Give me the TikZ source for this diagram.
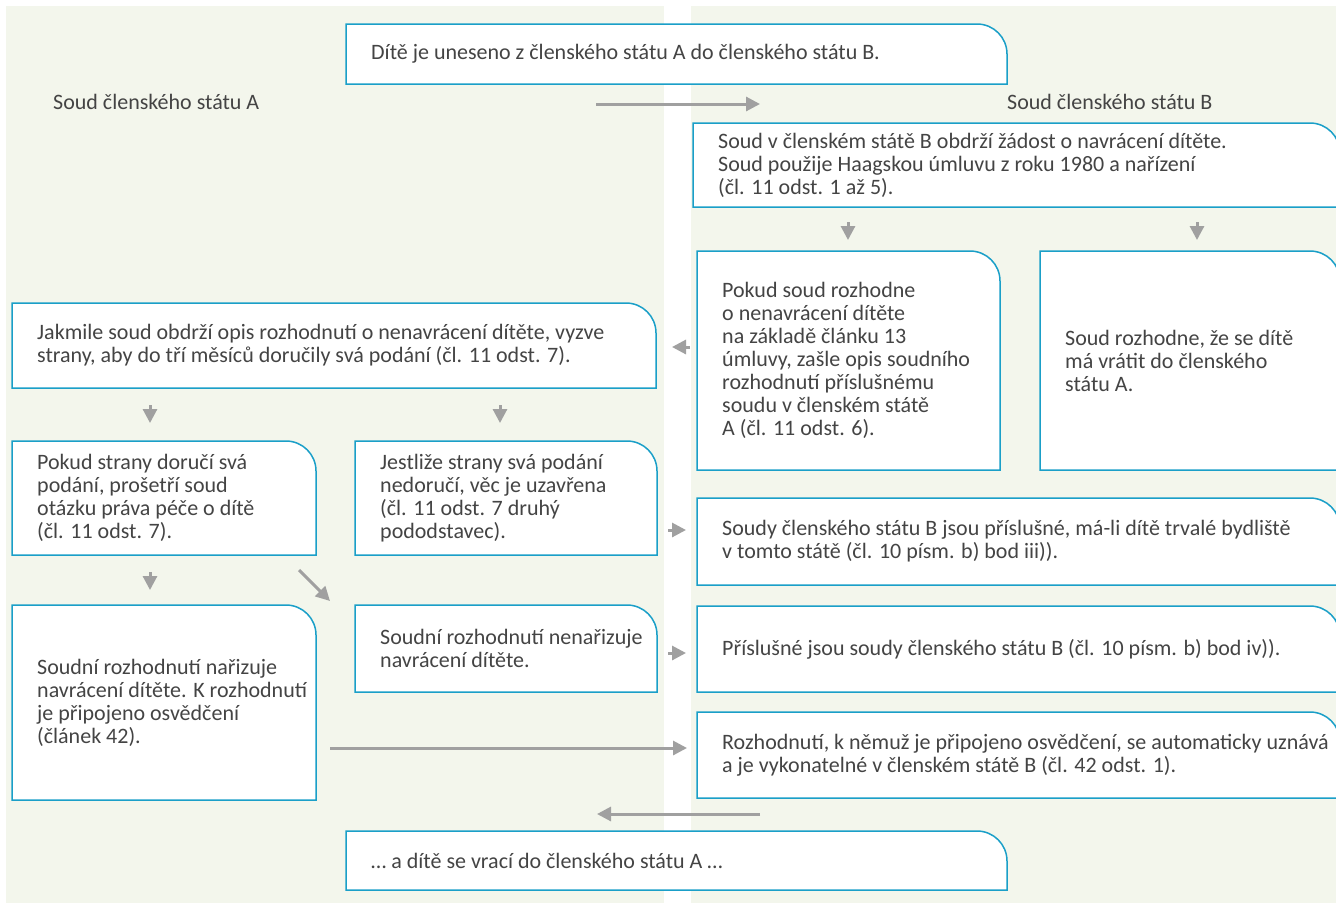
\documentclass[tikz,border=0pt]{standalone}
\usepackage{fontspec}
\setmainfont{Carlito}
\usetikzlibrary{arrows.meta}
\definecolor{panel}{HTML}{F3F6EC}
\definecolor{edgec}{HTML}{1A9FC8}
\definecolor{arrc}{HTML}{A0A0A0}
\definecolor{ink}{HTML}{444444}
\pgfdeclarelayer{bg}
\pgfdeclarelayer{boxbg}
\pgfsetlayers{bg,boxbg,main}
\newcommand\boxedge[1]{\draw[edgeline] (#1.south west) -- (#1.north west) -- ([xshift=-30pt]#1.north east) arc[start angle=90,end angle=0,radius=30pt] -- (#1.south east) -- cycle;}
\newcommand\mkbox[6]{%
  \pgfmathsetmacro\bw{#4-#2}\pgfmathsetmacro\bh{#5-#3}%
  \node[boxshape, minimum width=\bw pt, minimum height=\bh pt] (#1) at (#2,#3) {};
  \begin{pgfonlayer}{boxbg}\boxedge{#1}\end{pgfonlayer}
  \node[txt, anchor=west] (#1t) at ([xshift=25pt]#1.west) {#6};}
\begin{document}
\begin{tikzpicture}[x=1pt,y=-1pt,
  boxshape/.style={anchor=north west, inner sep=0pt, outer sep=0pt, draw=none},
  txt/.style={align=left, inner sep=0pt, font=\fontsize{22}{23}\selectfont, text=ink},
  edgeline/.style={draw=edgec, line width=1.5pt, fill=white},
  conn/.style={draw=arrc, line width=3pt, -{Triangle[length=14pt,width=14pt]}},
  lab/.style={font=\fontsize{22}{23}\selectfont, text=ink, inner sep=0pt}]
\useasboundingbox (0,0) rectangle (1336,903);
\begin{pgfonlayer}{bg}
  \fill[white] (0,0) rectangle (1336,903);
  \fill[panel] (6,6) rectangle (664,903);
  \fill[panel] (691,6) rectangle (1336,903);
\end{pgfonlayer}

\mkbox{T}{346}{24}{1007}{84}{Dítě je uneseno z členského státu A do členského státu B.}
\node[lab, anchor=west] (LA) at (53,102) {Soud členského státu A};
\node[lab, anchor=west] (LB) at (1007,102) {Soud členského státu B};

\mkbox{B1}{693}{123}{1340}{207}{Soud v členském státě B obdrží žádost o navrácení dítěte.\\Soud použije Haagskou úmluvu z roku 1980 a nařízení\\(čl. 11 odst. 1 až 5).}
\mkbox{B2}{697}{251}{1000}{470}{Pokud soud rozhodne\\o nenavrácení dítěte\\na základě článku 13\\úmluvy, zašle opis soudního\\rozhodnutí příslušnému\\soudu v členském státě\\A (čl. 11 odst. 6).}
\mkbox{B3}{1040}{251}{1340}{470}{Soud rozhodne, že se dítě\\má vrátit do členského\\státu A.}
\mkbox{A1}{12}{303}{656}{388}{Jakmile soud obdrží opis rozhodnutí o nenavrácení dítěte, vyzve\\strany, aby do tří měsíců doručily svá podání (čl. 11 odst. 7).}
\mkbox{A2}{12}{441}{316}{555}{Pokud strany doručí svá\\podání, prošetří soud\\otázku práva péče o dítě\\(čl. 11 odst. 7).}
\mkbox{A3}{355}{441}{657}{555}{Jestliže strany svá podání\\nedoručí, věc je uzavřena\\(čl. 11 odst. 7 druhý\\pododstavec).}
\mkbox{B4}{697}{498}{1340}{585}{Soudy členského státu B jsou příslušné, má-li dítě trvalé bydliště\\v tomto státě (čl. 10 písm. b) bod iii)).}
\mkbox{A4}{12}{605}{316}{800}{Soudní rozhodnutí nařizuje\\navrácení dítěte. K rozhodnutí\\je připojeno osvědčení\\(článek 42).}
\mkbox{A5}{355}{605}{657}{692}{Soudní rozhodnutí nenařizuje\\navrácení dítěte.}
\mkbox{B5}{697}{606}{1340}{692}{Příslušné jsou soudy členského státu B (čl. 10 písm. b) bod iv)).}
\mkbox{B6}{697}{712}{1340}{798}{Rozhodnutí, k němuž je připojeno osvědčení, se automaticky uznává\\a je vykonatelné v členském státě B (čl. 42 odst. 1).}
\mkbox{Bot}{346}{831}{1007}{890}{… a dítě se vrací do členského státu A …}

% connector end points
\coordinate (c1s) at (596,104); \coordinate (c1e) at (760,104);
\coordinate (c2s) at (848,222); \coordinate (c2e) at (848,240);
\coordinate (c3s) at (1197,222); \coordinate (c3e) at (1197,240);
\coordinate (c4s) at (690,347); \coordinate (c4e) at (672,347);
\coordinate (c5s) at (150,405); \coordinate (c5e) at (150,423);
\coordinate (c6s) at (500,405); \coordinate (c6e) at (500,423);
\coordinate (c7s) at (668,530); \coordinate (c7e) at (686,530);
\coordinate (c8s) at (150,572); \coordinate (c8e) at (150,590);
\coordinate (c9s) at (299,570); \coordinate (c9e) at (330,601);
\coordinate (c10s) at (668,653); \coordinate (c10e) at (686,653);
\coordinate (c11s) at (330,748); \coordinate (c11e) at (687,748);
\coordinate (c12s) at (760,814); \coordinate (c12e) at (597,814);
\foreach \i in {1,...,12} {\draw[conn] (c\i s) -- (c\i e);}
\end{tikzpicture}
\end{document}
